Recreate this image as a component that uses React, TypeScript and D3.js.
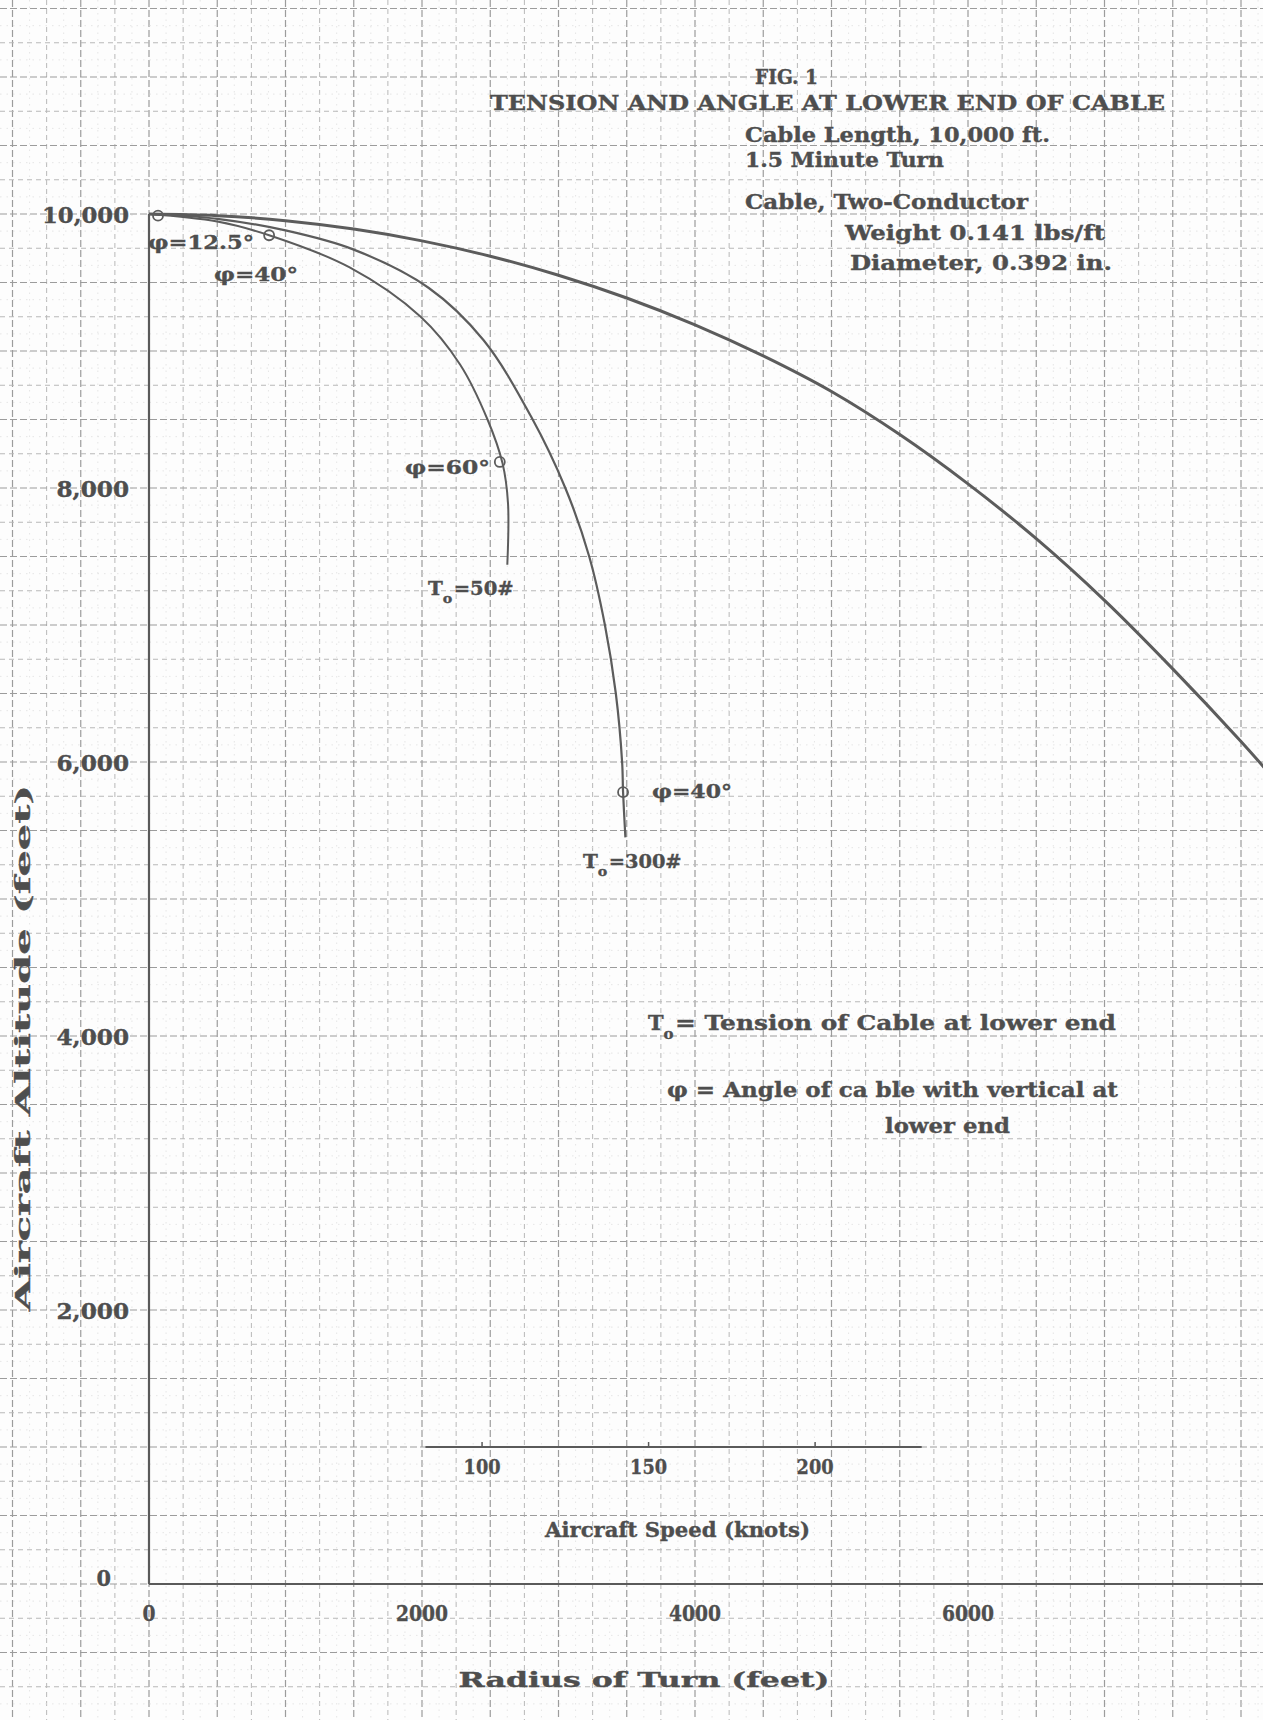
import React from "react";
import * as d3 from "d3";

const svgWidth = 1263;
const svgHeight = 1720;

const xScale = d3.scaleLinear().domain([0, 6000]).range([149, 968]);
const yScale = d3.scaleLinear().domain([0, 10000]).range([1584, 214]);

// values: radius of turn (ft) vs aircraft altitude (ft)
const outerRadius = [0, 500, 1000, 1500, 2000, 2500, 3000, 3500, 4000, 4500, 5000, 5500, 6000, 6500, 7000, 7500, 8000, 8200];
const outerAltitude = [10000, 9988, 9951, 9890, 9804, 9692, 9553, 9387, 9191, 8964, 8704, 8390, 8030, 7630, 7180, 6680, 6150, 5925];

const t300Radius = [0, 500, 1000, 1500, 2050, 2450, 2800, 3050, 3225, 3340, 3420, 3466, 3473, 3490];
const t300Altitude = [10000, 9965, 9880, 9740, 9460, 9080, 8520, 8000, 7500, 7000, 6500, 6000, 5780, 5450];

const t50Radius = [0, 500, 880, 1470, 1990, 2280, 2480, 2590, 2630, 2625];
const t50Altitude = [10000, 9945, 9845, 9610, 9250, 8900, 8500, 8180, 7890, 7440];

const markerRadius = [66, 880, 2570, 3473];
const markerAltitude = [9988, 9845, 8190, 5780];

const altitudeTicks = [0, 2000, 4000, 6000, 8000, 10000];
const altitudeLabels = ["0", "2,000", "4,000", "6,000", "8,000", "10,000"];
const radiusTicks = [0, 2000, 4000, 6000];
const radiusLabels = ["0", "2000", "4000", "6000"];
const speedTicks = [100, 150, 200];
const speedExtent = [83, 232];
const speedAxisAltitude = 1000;
const feetPerKnot = 24.4; // 1.5 minute turn

const speedScale = xScale.copy().domain(xScale.domain().map((d) => d / feetPerKnot));

const ink = "#4e4e4e";
const font = "DejaVu Serif";

const line = d3
  .line<[number, number]>()
  .x((d) => xScale(d[0]))
  .y((d) => yScale(d[1]))
  .curve(d3.curveCatmullRom.alpha(0.5));

const zip = (a: number[], b: number[]) => a.map((v, i) => [v, b[i]] as [number, number]);

const gridStep = 125;
const xGrid = d3.range(
  Math.ceil(xScale.invert(0) / gridStep) * gridStep,
  xScale.invert(svgWidth),
  gridStep
);
const yGrid = d3.range(
  Math.ceil(yScale.invert(svgHeight) / gridStep) * gridStep,
  yScale.invert(0),
  gridStep
);

const gridStyle = (v: number) => {
  const k = ((Math.round(v / gridStep) % 4) + 4) % 4;
  if (k === 0) return { stroke: "#9c9c9c", strokeWidth: 1.2, strokeDasharray: "7 3" };
  if (k === 2) return { stroke: "#b8b8b8", strokeWidth: 1, strokeDasharray: "5 4" };
  return { stroke: "#e0e0e0", strokeWidth: 0.8, strokeDasharray: "1.5 5" };
};

const Txt = ({ x, y, len, size = 20, anchor = "start", children, transform }: any) => (
  <text
    x={x}
    y={y}
    transform={transform}
    fontFamily={font}
    fontWeight="bold"
    fontSize={size}
    fill={ink}
    stroke={ink}
    strokeWidth={0.35}
    textAnchor={anchor}
    dominantBaseline="central"
    textLength={len}
    lengthAdjust="spacingAndGlyphs"
  >
    {children}
  </text>
);

const TSub = ({ x, y, rest, restLen, size = 19 }: any) => (
  <g>
    <Txt x={x} y={y} len={size * 0.78} size={size}>T</Txt>
    <Txt x={x + size * 0.78} y={y + 10} len={size * 0.5} size={size * 0.72}>o</Txt>
    <Txt x={x + size * 1.35} y={y} len={restLen} size={size}>{rest}</Txt>
  </g>
);

export default function App() {
  return (
    <svg
      width={svgWidth}
      height={svgHeight}
      style={{ position: "absolute", left: 0, top: 0, background: "#fff" }}
    >
      <rect width={svgWidth} height={svgHeight} fill="#fdfdfd" />
      {/* graph paper */}
      <g>
        {xGrid.map((v) => (
          <line key={"x" + v} x1={xScale(v)} x2={xScale(v)} y1={0} y2={svgHeight} {...gridStyle(v)} />
        ))}
        {yGrid.map((v) => (
          <line key={"y" + v} y1={yScale(v)} y2={yScale(v)} x1={0} x2={svgWidth} {...gridStyle(v)} />
        ))}
      </g>

      {/* axes */}
      <line x1={xScale(0)} x2={xScale(0)} y1={yScale(0)} y2={yScale(10000)} stroke="#5a5a5a" strokeWidth={2.2} />
      <line x1={xScale(0)} x2={svgWidth} y1={yScale(0)} y2={yScale(0)} stroke="#5a5a5a" strokeWidth={2.2} />

      {altitudeTicks.map((v, i) => {
        const lab = altitudeLabels[i];
        return (
          <Txt
            key={v}
            x={v === 0 ? 111 : 129}
            y={v === 0 ? yScale(v) - 6 : yScale(v) + 1}
            len={lab.length * 14.5}
            size={22}
            anchor="end"
          >
            {lab}
          </Txt>
        );
      })}
      {radiusTicks.map((v, i) => {
        const lab = radiusLabels[i];
        return (
          <Txt key={v} x={xScale(v)} y={1613} len={lab.length * 13} size={22} anchor="middle">
            {lab}
          </Txt>
        );
      })}

      <Txt x={644} y={1679} len={371} size={21} anchor="middle">Radius of Turn (feet)</Txt>
      <Txt transform="translate(22,1048) rotate(-90)" x={0} y={0} len={526} size={21} anchor="middle">
        Aircraft Altitude (feet)
      </Txt>

      {/* aircraft speed scale */}
      <line
        x1={speedScale(speedExtent[0])}
        x2={speedScale(speedExtent[1])}
        y1={yScale(speedAxisAltitude)}
        y2={yScale(speedAxisAltitude)}
        stroke="#5a5a5a"
        strokeWidth={2}
      />
      {speedTicks.map((v) => (
        <g key={v}>
          <line
            x1={speedScale(v)}
            x2={speedScale(v)}
            y1={yScale(speedAxisAltitude)}
            y2={yScale(speedAxisAltitude) - 5}
            stroke="#5a5a5a"
            strokeWidth={1.5}
          />
          <Txt x={speedScale(v)} y={1467} len={37} size={20} anchor="middle">
            {String(v)}
          </Txt>
        </g>
      ))}
      <Txt x={545} y={1530} len={265} size={20}>Aircraft Speed (knots)</Txt>

      {/* curves */}
      <path d={line(zip(outerRadius, outerAltitude)) || ""} fill="none" stroke="#5c5c5c" strokeWidth={3} />
      <path d={line(zip(t300Radius, t300Altitude)) || ""} fill="none" stroke="#5c5c5c" strokeWidth={2.2} />
      <path d={line(zip(t50Radius, t50Altitude)) || ""} fill="none" stroke="#5c5c5c" strokeWidth={2} />
      {markerRadius.map((r, i) => (
        <circle
          key={i}
          cx={xScale(r)}
          cy={yScale(markerAltitude[i])}
          r={5}
          fill="none"
          stroke="#5c5c5c"
          strokeWidth={1.8}
        />
      ))}

      {/* curve annotations */}
      <Txt x={148} y={242} len={106} size={19}>φ=12.5°</Txt>
      <Txt x={214} y={274} len={84} size={19}>φ=40°</Txt>
      <Txt x={405} y={467} len={85} size={19}>φ=60°</Txt>
      <TSub x={428} y={588} rest="=50#" restLen={60} />
      <Txt x={652} y={791} len={80} size={19}>φ=40°</Txt>
      <TSub x={583} y={861} rest="=300#" restLen={73} />

      {/* legend */}
      <TSub x={648} y={1023} rest=" = Tension of Cable at lower end" restLen={441} size={20} />
      <Txt x={667} y={1090} len={451} size={20}>φ = Angle of ca ble with vertical at</Txt>
      <Txt x={885} y={1126} len={125} size={20}>lower end</Txt>

      {/* title block */}
      <Txt x={755} y={77} len={63} size={20}>FIG. 1</Txt>
      <Txt x={490} y={103} len={675} size={20}>TENSION AND ANGLE AT LOWER END OF CABLE</Txt>
      <Txt x={745} y={135} len={305} size={20}>Cable Length, 10,000 ft.</Txt>
      <Txt x={745} y={160} len={199} size={20}>1.5 Minute Turn</Txt>
      <Txt x={745} y={202} len={283} size={20}>Cable, Two-Conductor</Txt>
      <Txt x={845} y={233} len={260} size={20}>Weight 0.141 lbs/ft</Txt>
      <Txt x={850} y={263} len={262} size={20}>Diameter, 0.392 in.</Txt>
    </svg>
  );
}
